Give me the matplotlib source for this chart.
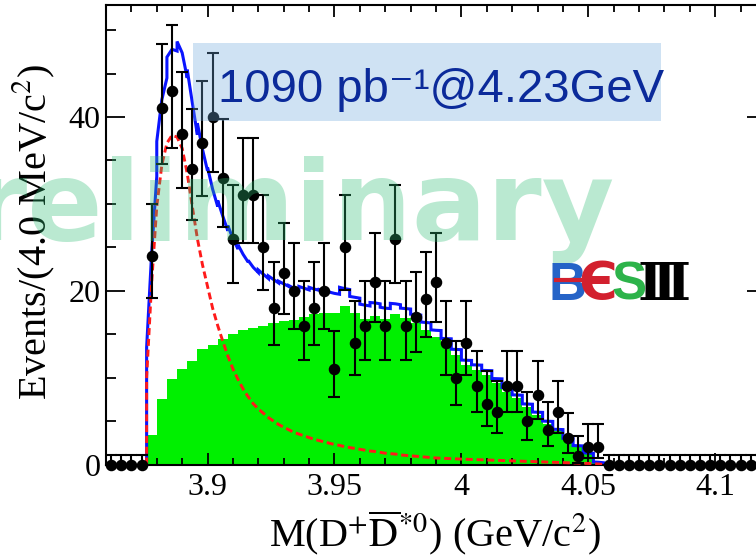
import numpy as np
import matplotlib
matplotlib.use('Agg')
import matplotlib.pyplot as plt
from matplotlib.patches import Rectangle
from matplotlib.lines import Line2D
from matplotlib.ticker import MultipleLocator, FixedLocator, FixedFormatter

plt.rcParams['font.family'] = ['Liberation Serif', 'DejaVu Serif']
plt.rcParams['mathtext.fontset'] = 'stix'

# ---------------- data ----------------
bin_low = 3.86          # GeV, lower edge of first bin
bin_width = 0.004       # GeV

# observed events per 4 MeV bin (65 bins, 3.86 - 4.12 GeV)
counts = [0, 0, 0, 0,
          24, 41, 43, 38, 34, 37, 40, 33, 26, 31, 31, 25, 18, 22, 20, 16,
          18, 20, 11, 25, 14, 16, 21, 16, 26, 16, 17, 19, 21, 14, 10, 14,
          9, 7, 6, 9, 9, 5, 8, 4, 6, 3, 1, 2, 2,
          0, 0, 0, 0, 0, 0, 0, 0, 0, 0, 0, 0, 0, 0, 0, 0]
zero_bin_upper_err = 1.15

# green (non-peaking) component, bins 4 .. 48
green_first_bin = 4
green = [3.45, 7.5, 9.9, 11.0, 11.95, 13.3, 13.7, 14.4, 15.0, 15.5,
         15.7, 16.0, 16.3, 16.5, 16.6, 17.0, 17.3, 17.4, 17.4, 18.2,
         17.4, 16.7, 17.1, 16.7, 17.3, 16.9, 16.3, 15.5, 14.7, 13.8,
         12.6, 11.4, 10.9, 10.3, 9.4, 8.4, 7.6, 6.6, 5.7, 4.7,
         3.8, 2.8, 2.0, 1.2, 0.2]

# red dashed signal shape, sampled every 2 MeV from 3.876 GeV
red_start = 3.876
red_step = 0.002
red = [10.0, 21.0, 29.7, 34.5, 37.0, 37.9, 37.7, 36.4, 33.5, 29.7,
       26.0, 23.0, 20.5, 18.0, 16.0, 14.2, 12.5, 11.0, 9.8, 8.7,
       7.8, 7.0, 6.4, 5.9, 5.4, 5.0, 4.6, 4.3, 4.0, 3.7,
       3.5, 3.3, 3.1, 2.9, 2.75, 2.6, 2.45, 2.3, 2.2, 2.05,
       1.95, 1.85, 1.75, 1.65, 1.55, 1.5, 1.4, 1.3, 1.25, 1.2,
       1.1, 1.05, 1.0, 0.95, 0.9, 0.85, 0.8, 0.75, 0.72, 0.7,
       0.67, 0.65, 0.62, 0.6, 0.58, 0.56, 0.54, 0.52, 0.5, 0.48,
       0.46, 0.44, 0.42, 0.4, 0.38, 0.36, 0.34, 0.32, 0.3, 0.28,
       0.26, 0.24, 0.22, 0.2, 0.18, 0.16, 0.14, 0.12, 0.09, 0.06,
       0.0]

xtick_values = [3.9, 3.95, 4.0, 4.05, 4.1]
xtick_labels = ['3.9', '3.95', '4', '4.05', '4.1']
ytick_values = [0, 20, 40]
ytick_labels = ['0', '20', '40']

# ---------------- derived arrays ----------------
counts_a = np.array(counts, dtype=float)
edges = bin_low + bin_width * np.arange(len(counts) + 1)
centers = edges[:-1] + bin_width / 2
green_a = np.array(green)
red_a = np.array(red)
red_x = red_start + red_step * np.arange(len(red))

# asymmetric Poisson (Garwood-like) errors
n = counts_a
nn = np.maximum(n, 1)
lo = np.where(n > 0, n - n * (1 - 1 / (9 * nn) - 1 / (3 * np.sqrt(nn))) ** 3, 0.0)
hi = (n + 1) * (1 - 1 / (9 * (n + 1)) + 1 / (3 * np.sqrt(n + 1))) ** 3 - n
hi = np.where(n > 0, hi, zero_bin_upper_err)

# total (blue) = signal shape + binned green component
ngreen = len(green)
bx = [edges[green_first_bin]]
by = [0.0]
for i in range(ngreen):
    k = green_first_bin + i
    j = 2 * i
    bx += [edges[k], centers[k], edges[k + 1]]
    by += list(red_a[j:j + 3] + green_a[i])
bx.append(edges[green_first_bin + ngreen])
by.append(0.0)

# ---------------- figure ----------------
W, H = 756, 558
fig = plt.figure(figsize=(W / 100, H / 100), dpi=100)
ax_l, ax_r, ax_t, ax_b = 106, 766, 5, 464.5
ax = fig.add_axes([ax_l / W, 1 - ax_b / H, (ax_r - ax_l) / W, (ax_b - ax_t) / H])

ax.stairs(green_a, edges[green_first_bin:green_first_bin + ngreen + 1],
          fill=True, color='#00f000', zorder=1, lw=0)
ax.plot(bx, by, color='#0a14ff', lw=2.2, zorder=2, solid_joinstyle='miter')
ax.plot(np.r_[red_x[0], red_x], np.r_[0.0, red_a], color='#ff1a1a', lw=2.1,
        dashes=(2.4, 1.3), zorder=3)
ax.errorbar(centers, counts_a, yerr=[lo, hi], fmt='o', color='black', ms=7.3,
            elinewidth=1.5, capsize=4.5, capthick=1.5, clip_on=False, zorder=5)

ax.set_xlim(3.86, 4.12)
ax.set_ylim(0, 52.9)

ax.xaxis.set_major_locator(FixedLocator(xtick_values))
ax.xaxis.set_major_formatter(FixedFormatter(xtick_labels))
ax.xaxis.set_minor_locator(MultipleLocator(0.01))
ax.yaxis.set_major_locator(FixedLocator(ytick_values))
ax.yaxis.set_major_formatter(FixedFormatter(ytick_labels))
ax.yaxis.set_minor_locator(MultipleLocator(5))

ax.tick_params(axis='both', which='both', direction='in', top=True, right=True,
               width=1.3, labelsize=23)
ax.tick_params(axis='x', which='major', length=8.6, pad=6)
ax.tick_params(axis='x', which='minor', length=5)
ax.tick_params(axis='y', which='major', length=13.7, pad=4)
ax.tick_params(axis='y', which='minor', length=7.2)
for s in ax.spines.values():
    s.set_linewidth(1.5)

ax.set_ylabel(r'Events/(4.0 MeV/c$^{2}$)', fontsize=29)
ax.yaxis.set_label_coords(-0.074, 0.506)
ax.set_xlabel(r'M(D$^{+}\overline{\mathrm{D}}^{*0}$) (GeV/c$^{2}$)', fontsize=29)
ax.xaxis.set_label_coords(0.4985, -0.097)

# luminosity box
def axfx(px):
    return (px - ax_l) / (ax_r - ax_l)

def axfy(py):
    return (ax_b - py) / (ax_b - ax_t)

ax.add_patch(Rectangle((axfx(193), axfy(121)), axfx(661) - axfx(193), axfy(43) - axfy(121),
                       transform=ax.transAxes, facecolor='#6fa8dc', alpha=0.33,
                       edgecolor='none', zorder=10))
ax.text(axfx(218), axfy(101.7), '1090 pb\u207b\u00b9@4.23GeV', transform=ax.transAxes,
        fontsize=34, family=['Liberation Sans', 'DejaVu Sans'], color='#0b2a9a',
        ha='left', va='baseline', zorder=11)

# BESIII logo
logo_base = 1 - 300 / H
logo_fs = 38
fig.text(567 / W, logo_base, 'B', color='#2563c7', fontsize=logo_fs, weight='bold',
         family=['Liberation Sans', 'DejaVu Sans'], ha='center', va='baseline', zorder=20)
fig.text(598 / W, logo_base, '\u0404', color='#d2202e', fontsize=logo_fs, weight='bold',
         family=['DejaVu Sans'], ha='center', va='baseline', zorder=20)
fig.text(629 / W, logo_base, 'S', color='#2db34a', fontsize=logo_fs, weight='bold',
         family=['Liberation Sans', 'DejaVu Sans'], ha='center', va='baseline', zorder=20)
fig.text(664 / W, logo_base, '\u2162', color='black', fontsize=logo_fs, weight='bold',
         family=['DejaVu Serif', 'DejaVu Sans'], ha='center', va='baseline', zorder=20)
fig.add_artist(Line2D([556 / W, 598 / W], [1 - 280 / H, 1 - 280 / H],
                      color='#d2202e', lw=3, zorder=21))

# watermark
fig.text(615 / W, 1 - 240 / H, 'Preliminary', fontsize=80, weight='bold',
         family=['DejaVu Sans'], color='#2ebd74', alpha=0.33,
         ha='right', va='baseline', zorder=15)

fig.savefig('out.png', dpi=100)
